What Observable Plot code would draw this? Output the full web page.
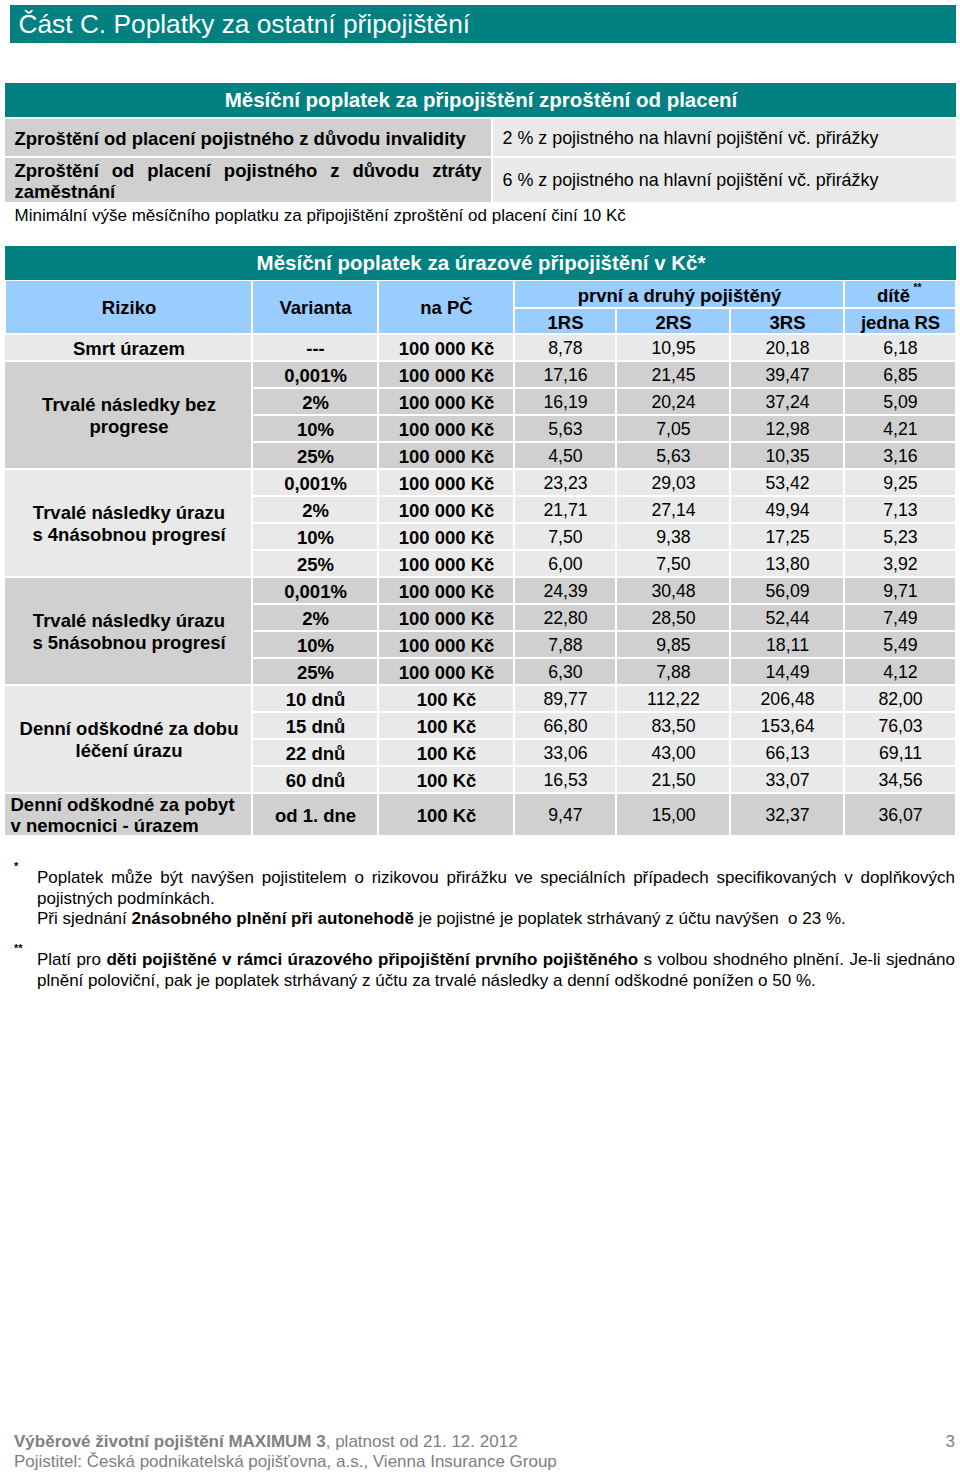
<!DOCTYPE html>
<html>
<head>
<meta charset="utf-8">
<script src="https://cdn.jsdelivr.net/npm/d3@7"></script>
<script src="https://cdn.jsdelivr.net/npm/@observablehq/plot@0.6"></script>
<style>
  body { margin: 0; background: #fff; font-family: "Liberation Sans", Arial, sans-serif; }
  #page { position: relative; width: 960px; height: 1475px; overflow: hidden; background: #fff; }
  #chart { position: absolute; left: 0; top: 0; }
  .star { position: absolute; left: 14px; font-size: 11px; line-height: 9px; height: 9px; font-weight: bold; color: #000; }
  .note { position: absolute; left: 37px; width: 918px; font-size: 17px; line-height: 20.5px; color: #000; }
  .note div { height: 20.5px; white-space: nowrap; }
  .note div.j { text-align: justify; text-align-last: justify; white-space: normal; }
  .footer { position: absolute; left: 14px; font-size: 17px; line-height: 20px; color: #808080; }
  .pageno { position: absolute; right: 5px; font-size: 17px; line-height: 20px; color: #808080; }
</style>
</head>
<body>
<div id="page">
  <div id="chart"></div>
  <div id="notes"></div>
</div>
<script>
// ---------------- DATA ----------------
const pageTitle = "Část C. Poplatky za ostatní připojištění";

const waiverTitle = "Měsíční poplatek za připojištění zproštění od placení";
const waiverRisks = [
  "Zproštění od placení pojistného z důvodu invalidity",
  "Zproštění od placení pojistného z důvodu ztráty\nzaměstnání"
];
const waiverFees = [
  "2 % z pojistného na hlavní pojištění vč. přirážky",
  "6 % z pojistného na hlavní pojištění vč. přirážky"
];
const waiverMinimum = "Minimální výše měsíčního poplatku za připojištění zproštění od placení činí 10 Kč";

const accidentTitle = "Měsíční poplatek za úrazové připojištění v Kč*";
const headColumns = ["Riziko", "Varianta", "na PČ"];
const insuredGroups = ["první a druhý pojištěný", "dítě"];
const insuredGroupMarks = ["", "**"];
const rsColumns = ["1RS", "2RS", "3RS", "jedna RS"];

const risks = [
  "Smrt úrazem",
  "Trvalé následky bez\nprogrese",
  "Trvalé následky úrazu\ns 4násobnou progresí",
  "Trvalé následky úrazu\ns 5násobnou progresí",
  "Denní odškodné za dobu\nléčení úrazu",
  "Denní odškodné za pobyt\nv nemocnici - úrazem"
];
const riskVariantCounts = [1, 4, 4, 4, 4, 1];

const variants = ["---", "0,001%", "2%", "10%", "25%", "0,001%", "2%", "10%", "25%",
  "0,001%", "2%", "10%", "25%", "10 dnů", "15 dnů", "22 dnů", "60 dnů", "od 1. dne"];
const sumsInsured = [100000, 100000, 100000, 100000, 100000, 100000, 100000, 100000, 100000,
  100000, 100000, 100000, 100000, 100, 100, 100, 100, 100];

const fee1RS = [8.78, 17.16, 16.19, 5.63, 4.50, 23.23, 21.71, 7.50, 6.00, 24.39, 22.80, 7.88, 6.30, 89.77, 66.80, 33.06, 16.53, 9.47];
const fee2RS = [10.95, 21.45, 20.24, 7.05, 5.63, 29.03, 27.14, 9.38, 7.50, 30.48, 28.50, 9.85, 7.88, 112.22, 83.50, 43.00, 21.50, 15.00];
const fee3RS = [20.18, 39.47, 37.24, 12.98, 10.35, 53.42, 49.94, 17.25, 13.80, 56.09, 52.44, 18.11, 14.49, 206.48, 153.64, 66.13, 33.07, 32.37];
const feeChild = [6.18, 6.85, 5.09, 4.21, 3.16, 9.25, 7.13, 5.23, 3.92, 9.71, 7.49, 5.49, 4.12, 82.00, 76.03, 69.11, 34.56, 36.07];

// footnote lines: [segments, justified]
const note1Lines = [
  [[["Poplatek může být navýšen pojistitelem o rizikovou přirážku ve speciálních případech specifikovaných v doplňkových", false]], true],
  [[["pojistných podmínkách.", false]], false],
  [[["Při sjednání ", false], ["2násobného plnění při autonehodě", true], [" je pojistné je poplatek strhávaný z účtu navýšen\u00a0 o 23 %.", false]], false]
];
const note2Lines = [
  [[["Platí pro ", false], ["děti pojištěné v rámci úrazového připojištění prvního pojištěného", true], [" s volbou shodného plnění. Je-li sjednáno", false]], true],
  [[["plnění poloviční, pak je poplatek strhávaný z účtu za trvalé následky a denní odškodné ponížen o 50 %.", false]], false]
];
const footerLine1 = [["Výběrové životní pojištění MAXIMUM 3", true], [", platnost od 21. 12. 2012", false]];
const footerLine2 = "Pojistitel: Česká podnikatelská pojišťovna, a.s., Vienna Insurance Group";
const pageNumber = "3";

// ---------------- LAYOUT ----------------
const W = 960;
const FONT = "Liberation Sans, Arial, sans-serif";
const TEAL = "#008080", BLUE = "#99ccff", LIGHT = "#e9e9e9", DARK = "#d0d0d0";
const loc = d3.formatLocale({decimal: ",", thousands: "\u00a0", grouping: [3], currency: ["", " Kč"]});
const fmtFee = loc.format(".2f");
const fmtSum = v => loc.format(",")(v).replace(/\u00a0/g, " ") + " Kč";

const rects = [];
const boldText = [];      // black bold, centered
const boldStart = [];     // black bold, start anchored
const regText = [];       // black regular, centered
const regStart = [];      // black regular, start anchored
const whiteText = [];     // section titles
const smallMarks = [];

// Section 1
const s1Top = 83, s1HeadH = 34;
rects.push({x1: 5, x2: 956, y1: s1Top, y2: s1Top + s1HeadH, fill: TEAL});
whiteText.push({x: 480.5, y: s1Top + s1HeadH / 2, text: waiverTitle});
let yy = s1Top + s1HeadH + 1;
const s1Split = 491;
waiverRisks.forEach((r, i) => {
  const lines = r.split("\n").length;
  const h = lines > 1 ? 46 : 39;
  rects.push({x1: 5, x2: s1Split, y1: yy + 1, y2: yy + h - 1, fill: DARK});
  rects.push({x1: s1Split + 2, x2: 956, y1: yy + 1, y2: yy + h - 1, fill: LIGHT});
  boldStart.push({x: 14, y: yy + h / 2, text: r});
  regStart.push({x: 502, y: yy + h / 2, text: waiverFees[i]});
  yy += h;
});
const minY = yy + 12;

// Section 2
const s2Top = 246, s2HeadH = 34;
rects.push({x1: 5, x2: 956, y1: s2Top, y2: s2Top + s2HeadH, fill: TEAL});
whiteText.push({x: 480.5, y: s2Top + s2HeadH / 2, text: accidentTitle});
const colX = [5, 252, 378, 514, 616, 730, 844, 956];
const hTop = s2Top + s2HeadH + 1, hMid = hTop + 27, hBot = hTop + 53;
headColumns.forEach((c, i) => {
  rects.push({x1: colX[i] + 1, x2: colX[i + 1] - 1, y1: hTop, y2: hBot - 1, fill: BLUE});
  boldText.push({x: (colX[i] + colX[i + 1]) / 2, y: (hTop + hBot) / 2 - 1, text: c});
});
const groupSpans = [[3, 6], [6, 7]];
insuredGroups.forEach((g, i) => {
  const [a, b] = groupSpans[i];
  rects.push({x1: colX[a] + 1, x2: colX[b] - 1, y1: hTop, y2: hMid - 1, fill: BLUE});
  const cx = (colX[a] + colX[b]) / 2;
  const off = insuredGroupMarks[i] ? -7 : 0;
  boldText.push({x: cx + off, y: (hTop + hMid) / 2, text: g});
  if (insuredGroupMarks[i]) smallMarks.push({x: cx + 13, y: (hTop + hMid) / 2 - 7, text: insuredGroupMarks[i]});
});
rsColumns.forEach((c, i) => {
  rects.push({x1: colX[3 + i] + 1, x2: colX[4 + i] - 1, y1: hMid + 1, y2: hBot - 1, fill: BLUE});
  boldText.push({x: (colX[3 + i] + colX[4 + i]) / 2, y: (hMid + hBot) / 2, text: c});
});

// Data rows
const fees = [fee1RS, fee2RS, fee3RS, feeChild];
let rowIdx = 0;
let y0 = hBot + 1;
risks.forEach((risk, g) => {
  const n = riskVariantCounts[g];
  const lines = risk.split("\n").length;
  const rowH = (n === 1 && lines > 1) ? 43 : 27;
  const shade = g % 2 === 0 ? LIGHT : DARK;
  const gTop = y0;
  for (let k = 0; k < n; k++) {
    const i = rowIdx + k;
    const t = y0, b = y0 + rowH;
    const cy = (t + b) / 2 - 1;
    rects.push({x1: colX[1] + 1, x2: colX[2] - 1, y1: t, y2: b - 2, fill: shade});
    rects.push({x1: colX[2] + 1, x2: colX[3] - 1, y1: t, y2: b - 2, fill: shade});
    boldText.push({x: (colX[1] + colX[2]) / 2, y: cy, text: variants[i]});
    boldText.push({x: (colX[2] + colX[3]) / 2, y: cy, text: fmtSum(sumsInsured[i])});
    fees.forEach((arr, j) => {
      rects.push({x1: colX[3 + j] + 1, x2: colX[4 + j] - 1, y1: t, y2: b - 2, fill: shade});
      regText.push({x: (colX[3 + j] + colX[4 + j]) / 2, y: cy, text: fmtFee(arr[i])});
    });
    y0 = b;
  }
  rects.push({x1: colX[0], x2: colX[1] - 1, y1: gTop, y2: y0 - 2, fill: shade});
  const label = {x: (colX[0] + colX[1]) / 2, y: (gTop + y0) / 2 - 1.5, text: risk};
  if (n === 1 && lines > 1) boldStart.push({x: colX[0] + 5, y: label.y, text: risk});
  else boldText.push(label);
  rowIdx += n;
});

// ---------------- PLOT ----------------
const PH = 845;
const chart = Plot.plot({
  width: W,
  height: PH,
  margin: 0,
  x: {domain: [0, W], range: [0, W], axis: null},
  y: {domain: [0, PH], range: [0, PH], axis: null},
  color: {type: "identity"},
  style: {fontFamily: FONT, background: "#fff"},
  marks: [
    Plot.rect([{x1: 10, x2: 956, y1: 5, y2: 43}], {x1: "x1", x2: "x2", y1: "y1", y2: "y2", fill: TEAL}),
    Plot.text([{x: 18, y: 24, text: pageTitle}], {x: "x", y: "y", text: "text", fill: "white", fontSize: 26.3, textAnchor: "start", fontFamily: FONT}),
    Plot.rect(rects, {x1: "x1", x2: "x2", y1: "y1", y2: "y2", fill: "fill"}),
    Plot.text(whiteText, {x: "x", y: "y", text: "text", fill: "white", fontSize: 20.5, fontWeight: "bold", fontFamily: FONT}),
    Plot.text(boldText, {x: "x", y: "y", text: "text", fill: "black", fontSize: 18.5, fontWeight: "bold", fontFamily: FONT, lineHeight: 1.19}),
    Plot.text(boldStart, {x: "x", y: "y", text: "text", fill: "black", fontSize: 18.5, fontWeight: "bold", textAnchor: "start", fontFamily: FONT, lineHeight: 1.15}),
    Plot.text(regText, {x: "x", y: "y", text: "text", fill: "black", fontSize: 17.7, fontFamily: FONT}),
    Plot.text(regStart, {x: "x", y: "y", text: "text", fill: "black", fontSize: 17.9, textAnchor: "start", fontFamily: FONT}),
    Plot.text([{x: 14, y: minY, text: waiverMinimum}], {x: "x", y: "y", text: "text", fill: "black", fontSize: 17, textAnchor: "start", fontFamily: FONT}),
    Plot.text(smallMarks, {x: "x", y: "y", text: "text", fill: "black", fontSize: 10, fontWeight: "bold", textAnchor: "start", fontFamily: FONT})
  ]
});
document.getElementById("chart").appendChild(chart);

// justify the first line of the wrapped waiver label
d3.select(chart).selectAll("text").each(function () {
  const tsp = this.querySelectorAll("tspan");
  if (tsp.length > 1 && tsp[0].textContent.includes("ztráty")) {
    const first = tsp[0];
    const w = first.getComputedTextLength();
    const spaces = (first.textContent.match(/ /g) || []).length;
    const target = s1Split - 10 - 14;
    if (spaces > 0 && w < target) first.style.wordSpacing = ((target - w) / spaces) + "px";
  }
});

// ---------------- NOTES & FOOTER ----------------
function seg(parts) {
  return parts.map(([t, b]) => b ? `<b>${t}</b>` : `<span>${t}</span>`).join("");
}
function lines(ls) {
  return ls.map(([parts, j]) => `<div class="${j ? "j" : ""}">${seg(parts)}</div>`).join("");
}
const notes = document.getElementById("notes");
notes.innerHTML = `
  <div class="star" style="top:862px">*</div>
  <div class="note" style="top:868px">${lines(note1Lines)}</div>
  <div class="star" style="top:944px">**</div>
  <div class="note" style="top:950px">${lines(note2Lines)}</div>
  <div class="footer" style="top:1432px">${seg(footerLine1)}<br><span>${footerLine2}</span></div>
  <div class="pageno" style="top:1432px">${pageNumber}</div>
`;
</script>
</body>
</html>
